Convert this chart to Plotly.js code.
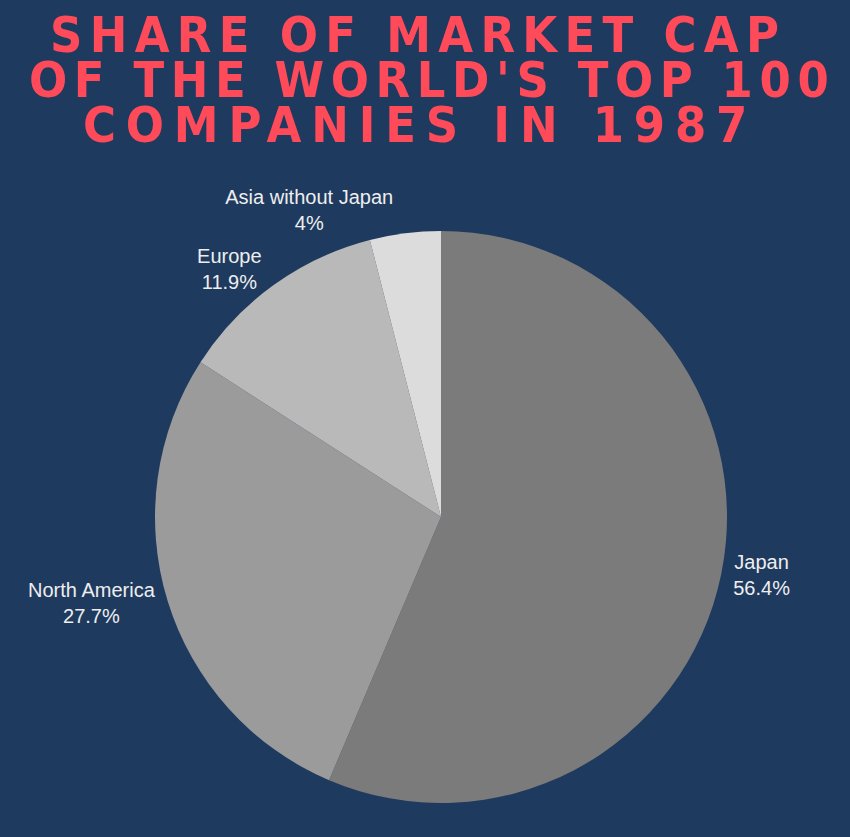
<!DOCTYPE html>
<html>
<head>
<meta charset="utf-8">
<script src="https://cdn.plot.ly/plotly-3.0.1.min.js"></script>
<style>
  html, body { margin: 0; padding: 0; background: #1f3a5f; }
  #chart { width: 850px; height: 837px; }
</style>
</head>
<body>
<div id="chart"></div>
<script>
const regions = ['Japan', 'North America', 'Europe', 'Asia without Japan'];
const shares = [56.4, 27.7, 11.9, 4.0];
const sliceColors = ['#7b7b7b', '#9b9b9b', '#b9b9b9', '#dcdcdc'];
const titleLines = ['SHARE OF MARKET CAP', "OF THE WORLD'S TOP 100", 'COMPANIES IN 1987'];

const bg = '#1f3a5f';
const titleRed = '#ff4a5a';

const pieTrace = {
    type: 'pie',
    labels: regions,
    values: shares,
    sort: false,
    direction: 'clockwise',
    rotation: 0,
    marker: { colors: sliceColors, line: { width: 0 } },
    textposition: 'outside',
    textinfo: 'label+percent',
    outsidetextfont: { family: 'Liberation Sans, Arial, sans-serif', size: 20, color: '#eeeeee' },
    hoverinfo: 'none',
    showlegend: false,
};

// one annotation per title line so the line spacing can be kept tight
const titleY = [1.342, 1.264, 1.185];
const titleX = [0.472, 0.489, 0.474];
const titleSpacing = [7.3, 6.6, 9.8];
const annotations = titleLines.map((line, i) => ({
    text: '<b><span style="letter-spacing:' + titleSpacing[i] + 'px">' + line + '</span></b>',
    xref: 'paper',
    yref: 'paper',
    x: titleX[i],
    y: titleY[i],
    xanchor: 'center',
    yanchor: 'middle',
    height: 44,
    showarrow: false,
    font: { family: 'DejaVu Sans Condensed, DejaVu Sans, sans-serif', size: 50, color: titleRed },
}));

const layout = {
    width: 850,
    height: 837,
    paper_bgcolor: bg,
    plot_bgcolor: bg,
    margin: { l: 32, r: 0, t: 231, b: 34 },
    annotations: annotations,
};

Plotly.newPlot('chart', [pieTrace], layout, { displayModeBar: false, staticPlot: true });
</script>
</body>
</html>
